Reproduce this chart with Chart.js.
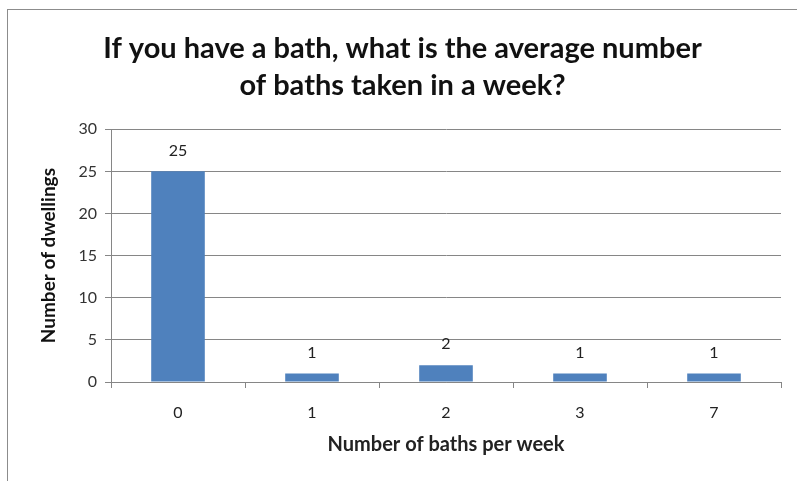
<!DOCTYPE html>
<html>
<head>
<meta charset="utf-8">
<script src="https://cdn.jsdelivr.net/npm/chart.js@4"></script>
<style>
  html, body { margin: 0; padding: 0; background: #fff; }
  #wrap { width: 797px; height: 481px; }
</style>
</head>
<body>
<div id="wrap"><canvas id="chart-baths"></canvas></div>
<script>
const categories = ["0", "1", "2", "3", "7"];
const dwellings = [25, 1, 2, 1, 1];
const yTicks = [0, 5, 10, 15, 20, 25, 30];

const ctx = document.getElementById("chart-baths").getContext("2d");

// outer frame like the spreadsheet chart border
const framePlugin = {
  id: "frame",
  beforeDraw(chart) {
    const c = chart.ctx;
    c.save();
    c.fillStyle = "#fff";
    c.fillRect(0, 0, chart.width, chart.height);
    c.strokeStyle = "#8c8c8c";
    c.lineWidth = 1;
    c.strokeRect(7.5, 9.5, chart.width + 20, chart.height + 20);
    c.restore();
  },
};

// value labels above bars
const valueLabels = {
  id: "valueLabels",
  afterDatasetsDraw(chart) {
    const c = chart.ctx;
    const meta = chart.getDatasetMeta(0);
    c.save();
    c.font = "16px Lato";
    c.fillStyle = "#222";
    c.textAlign = "center";
    c.textBaseline = "bottom";
    meta.data.forEach(function (bar, i) {
      c.fillText(dwellings[i], bar.x, bar.y - 13);
    });
    c.restore();
  },
};

Chart.defaults.font.family = "Lato, 'Open Sans', sans-serif";
Chart.defaults.color = "#333";

new Chart(ctx, {
  type: "bar",
  data: {
    labels: categories,
    datasets: [
      {
        data: dwellings,
        backgroundColor: "#4f81bd",
        borderWidth: 0,
        categoryPercentage: 1,
        barPercentage: 0.4,
      },
    ],
  },
  options: {
    responsive: true,
    maintainAspectRatio: false,
    animation: false,
    layout: { padding: { left: 24, right: 16, top: 0, bottom: 24 } },
    plugins: {
      legend: { display: false },
      tooltip: { enabled: false },
      title: {
        display: true,
        text: [
          "If you have a bath, what is the average number",
          "of baths taken in a week?",
        ],
        color: "#111",
        font: { size: 29, weight: "bold", lineHeight: 1.28 },
        padding: { top: 30, bottom: 25 },
      },
    },
    scales: {
      x: {
        grid: {
          display: true,
          drawOnChartArea: false,
          offset: true,
          color: "#868686",
          tickLength: 6,
        },
        border: { color: "#868686" },
        ticks: { font: { size: 16 }, color: "#222", padding: 15 },
        title: {
          display: true,
          text: "Number of baths per week",
          font: { size: 20, weight: "bold" },
          color: "#222",
          padding: { top: 0, bottom: 0 },
        },
        afterFit(scale) {
          scale.height = 75;
        },
      },
      y: {
        min: 0,
        max: 30,
        afterBuildTicks(scale) {
          scale.ticks = yTicks.map(function (v) {
            return { value: v };
          });
        },
        grid: { color: "#868686", tickLength: 6 },
        border: { color: "#868686" },
        ticks: { font: { size: 16 }, color: "#333", padding: 8 },
        title: {
          display: true,
          text: "Number of dwellings",
          font: { size: 19, weight: "bold" },
          color: "#111",
          padding: { top: 13, bottom: 0 },
        },
        afterFit(scale) {
          scale.width = 87;
        },
      },
    },
  },
  plugins: [framePlugin, valueLabels],
});
</script>
</body>
</html>
